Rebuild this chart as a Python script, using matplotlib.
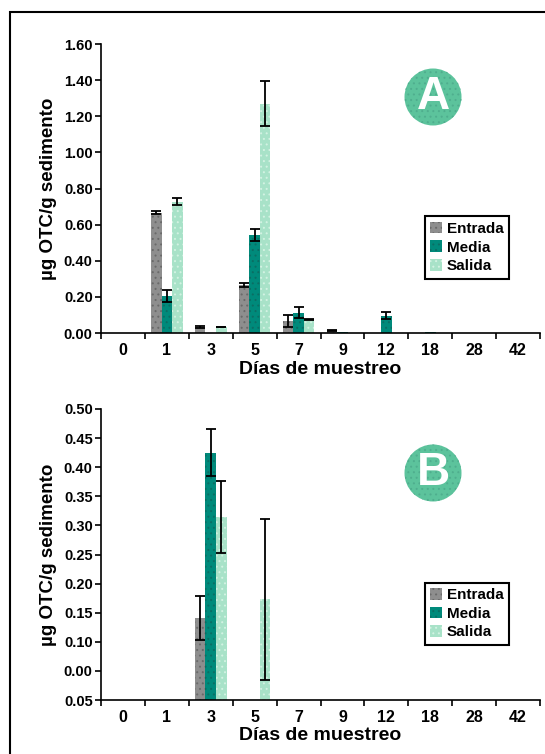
import matplotlib
matplotlib.use("Agg")
import matplotlib.pyplot as plt
import numpy as np
from matplotlib.patches import Circle, Rectangle

plt.rcParams['font.family'] = ['Liberation Sans', 'DejaVu Sans']
plt.rcParams['font.weight'] = 'bold'
plt.rcParams['axes.labelweight'] = 'bold'
plt.rcParams['hatch.linewidth'] = 0.7

days = ['0', '1', '3', '5', '7', '9', '12', '18', '28', '42']
series = ['Entrada', 'Media', 'Salida']

# panel A
a_entrada = [0, 0.667, 0.032, 0.265, 0.067, 0.012, 0, 0, 0, 0]
a_entrada_err = [0, 0.008, 0.007, 0.013, 0.034, 0.003, 0, 0, 0, 0]
a_media = [0, 0.203, 0, 0.542, 0.112, 0.004, 0.096, 0.003, 0, 0]
a_media_err = [0, 0.034, 0, 0.032, 0.031, 0, 0.021, 0, 0, 0]
a_salida = [0, 0.727, 0.033, 1.27, 0.076, 0, 0, 0, 0, 0]
a_salida_err = [0, 0.02, 0.002, 0.125, 0.004, 0, 0, 0, 0, 0]

# panel B
b_entrada = [0, 0, 0.141, 0, 0, 0, 0, 0, 0, 0]
b_entrada_err = [0, 0, 0.038, 0, 0, 0, 0, 0, 0, 0]
b_media = [0, 0, 0.425, 0, 0, 0, 0, 0, 0, 0]
b_media_err = [0, 0, 0.040, 0, 0, 0, 0, 0, 0, 0]
b_salida = [0, 0, 0.314, 0.173, 0, 0, 0, 0, 0, 0]
b_salida_err = [0, 0, 0.062, 0.138, 0, 0, 0, 0, 0, 0]

a_yticks = [0.0, 0.2, 0.4, 0.6, 0.8, 1.0, 1.2, 1.4, 1.6]
a_ylabels = ['0.00', '0.20', '0.40', '0.60', '0.80', '1.00', '1.20', '1.40', '1.60']
b_yticks = [0.0, 0.05, 0.10, 0.15, 0.20, 0.25, 0.30, 0.35, 0.40, 0.45, 0.50]
b_ylabels = ['0.05', '0.00', '0.10', '0.15', '0.20', '0.25', '0.30', '0.35', '0.40', '0.45', '0.50']

face = ['#8e8e8e', '#008a7b', '#a8e2c8']
dots = ['#6a6a6a', '#0b6e64', '#d2f2e2']


def panel(ax, vals, errs, yticks, ylabels, ymax):
    x = np.arange(len(days))
    w = 0.24
    for i in range(3):
        v = np.array(vals[i])
        e = np.array(errs[i])
        ax.bar(x + (i - 1) * w, v, w, color=face[i], edgecolor=dots[i],
               hatch='...', linewidth=0, label=series[i], zorder=2)
        m = e > 0
        ax.errorbar(x[m] + (i - 1) * w, v[m], yerr=e[m], fmt='none',
                    ecolor='black', elinewidth=1.3, capsize=3.6, capthick=1.3, zorder=3)
    ax.set_xlim(-0.5, len(days) - 0.5)
    ax.set_ylim(0, ymax)
    ax.set_yticks(yticks)
    ax.set_yticklabels(ylabels)
    ax.set_xticks(x)
    ax.set_xticklabels(days)
    ax.set_xticks(np.arange(len(days) + 1) - 0.5, minor=True)
    ax.tick_params(axis='x', which='major', length=0, pad=7, labelsize=11.5)
    ax.tick_params(axis='x', which='minor', length=4, width=1.2, direction='out')
    ax.tick_params(axis='y', length=4, width=1.2, pad=2, labelsize=10.5)
    for s in ['top', 'right']:
        ax.spines[s].set_visible(False)
    for s in ['left', 'bottom']:
        ax.spines[s].set_linewidth(1.2)
    ax.set_xlabel('Días de muestreo', fontsize=14, labelpad=2)
    ax.set_ylabel('µg OTC/g sedimento', fontsize=13.5, labelpad=5)
    leg = ax.legend(loc='upper left', bbox_to_anchor=(0.72, 0.43), fontsize=11,
                    handlelength=0.8, handleheight=0.8, handletextpad=0.3,
                    labelspacing=0.3, borderpad=0.35, fancybox=False,
                    edgecolor='black', framealpha=1)
    leg.get_frame().set_linewidth(1.5)


def main():
    fig = plt.figure(figsize=(5.45, 7.54), dpi=100)
    ax1 = fig.add_axes([101 / 545, (754 - 333) / 754, 439 / 545, 289 / 754])
    ax2 = fig.add_axes([101 / 545, (754 - 700) / 754, 439 / 545, 291 / 754])
    panel(ax1, [a_entrada, a_media, a_salida], [a_entrada_err, a_media_err, a_salida_err],
          a_yticks, a_ylabels, 1.6)
    panel(ax2, [b_entrada, b_media, b_salida], [b_entrada_err, b_media_err, b_salida_err],
          b_yticks, b_ylabels, 0.5)

    # outer frame
    fig.add_artist(Rectangle((10 / 545, -0.1), 2, (754 - 12) / 754 + 0.1,
                             transform=fig.transFigure, fill=False, lw=1.5, color='black'))
    # panel badges
    for letter, cy in [('A', 97), ('B', 473)]:
        fig.add_artist(Circle((4.33, (754 - cy) / 100), 0.285, transform=fig.dpi_scale_trans,
                              facecolor='#5cc39c', edgecolor='#4fae8e', hatch='...', lw=0))
        fig.text(433 / 545, (754 - cy) / 754, letter, ha='center', va='center',
                 color='white', fontsize=33, fontweight='bold')

    fig.savefig('out.png', dpi=100)


if __name__ == "__main__":
    main()
